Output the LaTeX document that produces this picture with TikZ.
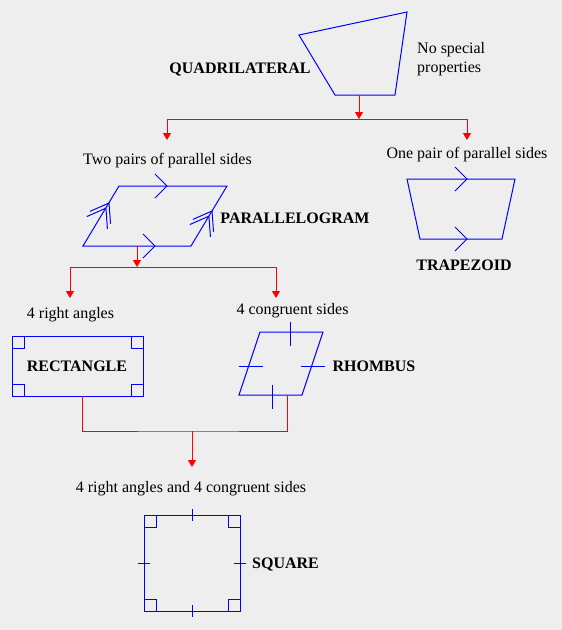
\documentclass[tikz,border=0pt]{standalone}
\usepackage{fontspec}
\setmainfont{Liberation Serif}
\usepackage{tikz}
\usetikzlibrary{arrows.meta, calc, positioning}
\usepackage{xcolor}
\definecolor{qBlue}{HTML}{0000FF}
\definecolor{qRed}{HTML}{FF0000}
\definecolor{qBack}{HTML}{EEEEEE}

\tikzset{
  chev/.pic={\draw[figure] (-12,-12) -- (0,0) -- (-12,12);},
  dchev/.pic={\draw[figure] (-17,-12) -- (0,0) -- (-17,12)
                            (-23,-12) -- (-6,0) -- (-23,12);}
}

\begin{document}
\begin{tikzpicture}[x=1pt, y=-1pt,
    figure/.style={draw=qBlue, line width=1pt},
    link/.style={draw=qRed, line width=1pt},
    linkarrow/.style={link, -{Triangle[length=7pt, width=8pt]}},
    note/.style={font=\fontsize{16}{19}\selectfont, inner sep=0pt, anchor=base},
    kind/.style={note, font=\fontsize{16}{19}\selectfont\bfseries}]
  \fill[qBack] (0,0) rectangle (562,630);
  \useasboundingbox (0,0) rectangle (562,630);

  % quadrilateral
  \draw[figure] (299,35) -- (407,12) -- (395,95) -- (335,95) -- cycle;
  \node[kind] (quadname) at (240,73) {QUADRILATERAL};
  \node[note, anchor=west, align=left] (quadnote) at (417,59.5) {No special\\properties};
  \coordinate (quadout) at (359,95);
  \coordinate (split1) at (359,119);
  \coordinate (parin) at (167,140);
  \coordinate (trapin) at (467,140);
  \draw[linkarrow] (quadout) -- (split1);
  \draw[linkarrow] (split1) -| (parin);
  \draw[linkarrow] (split1) -| (trapin);

  % parallelogram
  \node[note] (parnote) at (167.5,164) {Two pairs of parallel sides};
  \draw[figure] (83,246) -- (191,246) -- (227,186) -- (119,186) -- cycle;
  \pic at (167,186) {chev};
  \pic at (155,246) {chev};
  \pic[rotate=59] at (109,203) {dchev};
  \pic[rotate=59] at (212,211) {dchev};
  \node[kind] (parname) at (295,223) {PARALLELOGRAM};

  % trapezoid
  \node[note] (trapnote) at (467,158) {One pair of parallel sides};
  \draw[figure] (407,179) -- (515,179) -- (502,239) -- (420,239) -- cycle;
  \pic at (467,179) {chev};
  \pic at (467,239) {chev};
  \node[kind] (trapname) at (464,270) {TRAPEZOID};

  \coordinate (parout) at (137,246);
  \coordinate (split2) at (137,267);
  \coordinate (rectin) at (70,298);
  \coordinate (rhombin) at (276,298);
  \draw[linkarrow] (parout) -- (split2);
  \draw[linkarrow] (split2) -| (rectin);
  \draw[linkarrow] (split2) -| (rhombin);

  % rectangle
  \node[note] (rectnote) at (70.5,318) {4 right angles};
  \draw[figure] (12,336) rectangle (143,396);
  \foreach \cx/\cy/\dx/\dy in {12/336/12/12, 143/336/-12/12, 12/396/12/-12, 143/396/-12/-12}
    \draw[figure] (\cx,\cy) rectangle ++(\dx,\dy);
  \node[kind] (rectname) at (77,371) {RECTANGLE};

  % rhombus
  \node[note] (rhombnote) at (292.5,314) {4 congruent sides};
  \draw[figure] (239,395) -- (302,395) -- (323,332) -- (260,332) -- cycle;
  \draw[figure] (290,322) -- (290,346) (272,385) -- (272,409)
                (239,366) -- (263,366) (301,366) -- (325,366);
  \node[kind] (rhombname) at (374,371) {RHOMBUS};

  \coordinate (rectout) at (82,396);
  \coordinate (rhombout) at (287,395);
  \coordinate (merge) at (192,431);
  \coordinate (sqin) at (192,467);
  \draw[link] (rectout) |- (merge) -| (rhombout);
  \draw[linkarrow] (merge) -- (sqin);

  % square
  \node[note] (sqnote) at (191,492.5) {4 right angles and 4 congruent sides};
  \draw[figure] (144,515) rectangle (240,611);
  \foreach \cx/\cy/\dx/\dy in {144/515/12/12, 240/515/-12/12, 144/611/12/-12, 240/611/-12/-12}
    \draw[figure] (\cx,\cy) rectangle ++(\dx,\dy);
  \draw[figure] (192,509) -- (192,521) (192,605) -- (192,617)
                (138,563) -- (150,563) (234,563) -- (246,563);
  \node[kind] (sqname) at (285.5,568) {SQUARE};
\end{tikzpicture}
\end{document}
